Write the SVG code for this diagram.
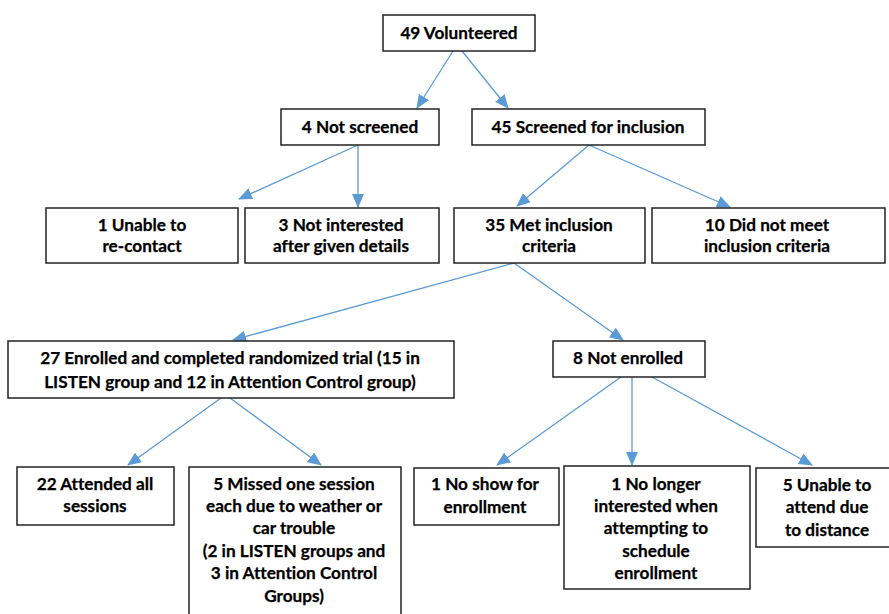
<svg xmlns="http://www.w3.org/2000/svg" width="889" height="614" viewBox="0 0 889 614">
<style>
.box{fill:#fff;stroke:#222;stroke-width:1.5}
.t{font-family:Lato,"Liberation Sans",sans-serif;font-weight:bold;font-size:17.2px;fill:#000;text-anchor:middle;font-variant-ligatures:none;stroke:#000;stroke-width:0.25}
.c{stroke:#5B9BD5;stroke-width:1.3;fill:none;marker-end:url(#ah)}
</style>
<defs>
<marker id="ah" markerUnits="userSpaceOnUse" markerWidth="14" markerHeight="12" viewBox="0 0 14 12" refX="13" refY="6" orient="auto">
<path d="M0,0 L14,6 L0,12 Z" fill="#5B9BD5"/>
</marker>
</defs>
<rect width="889" height="614" fill="#fff"/>
<g id="connectors">
<line class="c" x1="453" y1="51" x2="417" y2="108"/>
<line class="c" x1="462" y1="51" x2="508" y2="108"/>
<line class="c" x1="358" y1="145" x2="239" y2="199"/>
<line class="c" x1="358" y1="145" x2="358" y2="207"/>
<line class="c" x1="589" y1="145" x2="517" y2="206"/>
<line class="c" x1="589" y1="145" x2="730" y2="207"/>
<line class="c" x1="514" y1="263" x2="233" y2="340"/>
<line class="c" x1="514" y1="263" x2="623" y2="340"/>
<line class="c" x1="221" y1="398" x2="128" y2="465"/>
<line class="c" x1="230" y1="398" x2="321" y2="465"/>
<line class="c" x1="621" y1="377" x2="497" y2="465"/>
<line class="c" x1="632" y1="377" x2="632" y2="465"/>
<line class="c" x1="652" y1="377" x2="812" y2="465"/>
</g>
<g id="n49"><rect class="box" x="383" y="15" width="152" height="36"/><text class="t" x="459" y="39">49 Volunteered</text></g>
<g id="n4"><rect class="box" x="281" y="109" width="158" height="36"/><text class="t" x="360" y="133">4 Not screened</text></g>
<g id="n45"><rect class="box" x="472" y="109" width="233" height="36"/><text class="t" x="588" y="133">45 Screened for inclusion</text></g>
<g id="n1u"><rect class="box" x="46" y="208" width="192" height="55"/><text class="t" x="142" y="231">1 Unable to</text><text class="t" x="142" y="252">re-contact</text></g>
<g id="n3"><rect class="box" x="245" y="208" width="194" height="55"/><text class="t" x="341" y="231">3 Not interested</text><text class="t" x="341" y="252">after given details</text></g>
<g id="n35"><rect class="box" x="454" y="208" width="191" height="55"/><text class="t" x="549" y="231">35 Met inclusion</text><text class="t" x="549" y="252">criteria</text></g>
<g id="n10"><rect class="box" x="652" y="208" width="233" height="55"/><text class="t" x="767" y="231">10 Did not meet</text><text class="t" x="767" y="252">inclusion criteria</text></g>
<g id="n27"><rect class="box" x="8" y="341" width="446" height="57"/><text class="t" x="230" y="364">27 Enrolled and completed randomized trial (15 in</text><text class="t" x="230" y="388">LISTEN group and 12 in Attention Control group)</text></g>
<g id="n8"><rect class="box" x="553" y="341" width="152" height="36"/><text class="t" x="628" y="364">8 Not enrolled</text></g>
<g id="n22"><rect class="box" x="17" y="467" width="157" height="58"/><text class="t" x="95" y="490">22 Attended all</text><text class="t" x="95" y="512">sessions</text></g>
<g id="n5m"><rect class="box" x="189" y="467" width="212" height="152"/><text class="t" x="294" y="490">5 Missed one session</text><text class="t" x="294" y="512">each due to weather or</text><text class="t" x="294" y="534">car trouble</text><text class="t" x="294" y="557">(2 in LISTEN groups and</text><text class="t" x="294" y="579">3 in Attention Control</text><text class="t" x="294" y="602">Groups)</text></g>
<g id="n1ns"><rect class="box" x="414" y="468" width="145" height="57"/><text class="t" x="485" y="490">1 No show for</text><text class="t" x="485" y="513">enrollment</text></g>
<g id="n1nl"><rect class="box" x="564" y="466" width="186" height="123"/><text class="t" x="656" y="490">1 No longer</text><text class="t" x="656" y="512">interested when</text><text class="t" x="656" y="534">attempting to</text><text class="t" x="656" y="557">schedule</text><text class="t" x="656" y="579">enrollment</text></g>
<g id="n5u"><rect class="box" x="756" y="468" width="134" height="79"/><text class="t" x="827" y="491">5 Unable to</text><text class="t" x="827" y="513">attend due</text><text class="t" x="827" y="536">to distance</text></g>
</svg>
